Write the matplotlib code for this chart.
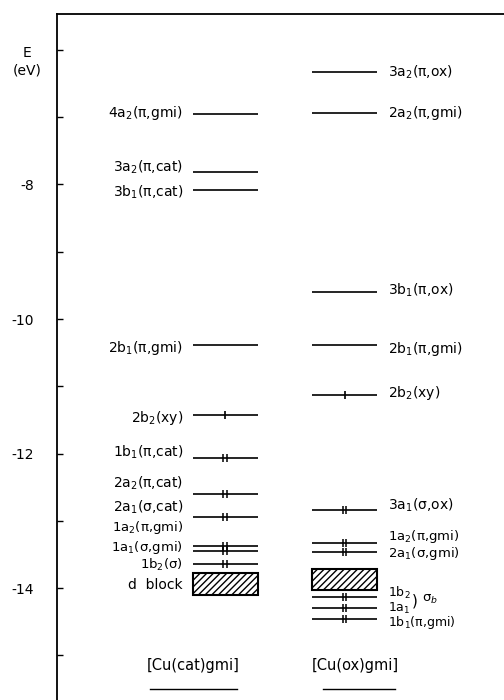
import matplotlib
matplotlib.use("Agg")
import matplotlib.pyplot as plt
from matplotlib.patches import Rectangle

# orbital energies (eV)

cat_labels = ["4a$_2$(π,gmi)", "3a$_2$(π,cat)", "3b$_1$(π,cat)", "2b$_1$(π,gmi)",
              "2b$_2$(xy)", "1b$_1$(π,cat)", "2a$_2$(π,cat)", "2a$_1$(σ,cat)",
              "1a$_2$(π,gmi)", "1a$_1$(σ,gmi)", "1b$_2$(σ)"]
cat_energy = [-6.95, -7.81, -8.08, -10.39, -11.43, -12.07, -12.60, -12.95, -13.38, -13.45, -13.65]
cat_electrons = [0, 0, 0, 0, 1, 2, 2, 2, 2, 2, 2]
cat_dblock = [-13.78, -14.10]

ox_labels = ["3a$_2$(π,ox)", "2a$_2$(π,gmi)", "3b$_1$(π,ox)", "2b$_1$(π,gmi)",
             "2b$_2$(xy)", "3a$_1$(σ,ox)", "1a$_2$(π,gmi)", "2a$_1$(σ,gmi)",
             "1b$_2$", "1a$_1$", "1b$_1$(π,gmi)"]
ox_energy = [-6.33, -6.94, -9.60, -10.38, -11.13, -12.84, -13.33, -13.46, -14.13, -14.30, -14.46]
ox_electrons = [0, 0, 0, 0, 1, 2, 2, 2, 2, 2, 2]
ox_dblock = [-13.72, -14.03]

compounds = ["[Cu(cat)gmi]", "[Cu(ox)gmi]"]
y_ticks = [-6, -7, -8, -9, -10, -11, -12, -13, -14, -15]
y_ticklabels = ["", "", "-8", "", "-10", "", "-12", "", "-14", ""]

# label placement (labels in the crowded part are spread out)
cat_label_y = [-6.94, -7.75, -8.11, -10.43, -11.47, -11.98, -12.45, -12.80, -13.10, -13.40, -13.65]
cat_label_fs = [10, 10, 10, 10, 10, 10, 10, 10, 9.5, 9.5, 9.5]
ox_label_y = [-6.33, -6.94, -9.57, -10.45, -11.10, -12.77, -13.23, -13.49, -14.08, -14.30, -14.52]
ox_label_fs = [10, 10, 10, 10, 10, 10, 9.5, 9.5, 9, 9, 9]

fig = plt.figure(figsize=(5.04, 7.0), dpi=100)
ax = fig.add_axes([57 / 504, 0, 1 - 57 / 504, 1 - 14 / 700])
ax.set_xlim(0, 447)
ax.set_ylim(-15.665, -5.465)

for s in ["right", "bottom"]:
    ax.spines[s].set_visible(False)
ax.spines["left"].set_linewidth(1.3)
ax.spines["top"].set_linewidth(1.3)
ax.set_xticks([])
ax.set_yticks(y_ticks)
ax.set_yticklabels(y_ticklabels)
ax.tick_params(axis="y", direction="in", length=4, width=1, pad=16.5, labelsize=10)


def draw_column(xc, hw, energies, electrons, dblock):
    for e, n in zip(energies, electrons):
        ax.plot([xc - hw, xc + hw], [e, e], color="black", lw=1.2, solid_capstyle="butt")
        if n == 1:
            ax.plot([xc], [e], marker="|", color="black", ms=6, mew=1.2)
        elif n == 2:
            ax.plot([xc - 1.6, xc + 1.6], [e, e], ls="none", marker="|", color="black", ms=6, mew=1.1)
    rect = Rectangle((xc - hw, dblock[1]), 2 * hw, dblock[0] - dblock[1],
                     facecolor="white", edgecolor="black", lw=1.5, hatch="/////")
    ax.add_patch(rect)


cat_x, ox_x, half = 168, 287.5, 32.5
draw_column(cat_x, half, cat_energy, cat_electrons, cat_dblock)
draw_column(ox_x, half, ox_energy, ox_electrons, ox_dblock)

for lab, y, f in zip(cat_labels, cat_label_y, cat_label_fs):
    ax.text(126, y, lab, ha="right", va="center", fontsize=f)
ax.text(126, -13.96, "d  block", ha="right", va="center", fontsize=10)

for lab, y, f in zip(ox_labels, ox_label_y, ox_label_fs):
    ax.text(331, y, lab, ha="left", va="center", fontsize=f)
ax.text(355, -14.19, ")", ha="left", va="center", fontsize=11)
ax.text(365, -14.17, "σ$_b$", ha="left", va="center", fontsize=9.5)

# compound names with underline
ax.text(136, -15.145, compounds[0], ha="center", va="center", fontsize=10.5)
ax.plot([93, 180], [-15.5, -15.5], color="black", lw=1)
ax.text(298, -15.145, compounds[1], ha="center", va="center", fontsize=10.5)
ax.plot([266, 338], [-15.5, -15.5], color="black", lw=1)

fig.text(27 / 504, 1 - 62 / 700, "E\n(eV)", ha="center", va="center", fontsize=10, linespacing=1.3)

fig.savefig("out.png", dpi=100)
